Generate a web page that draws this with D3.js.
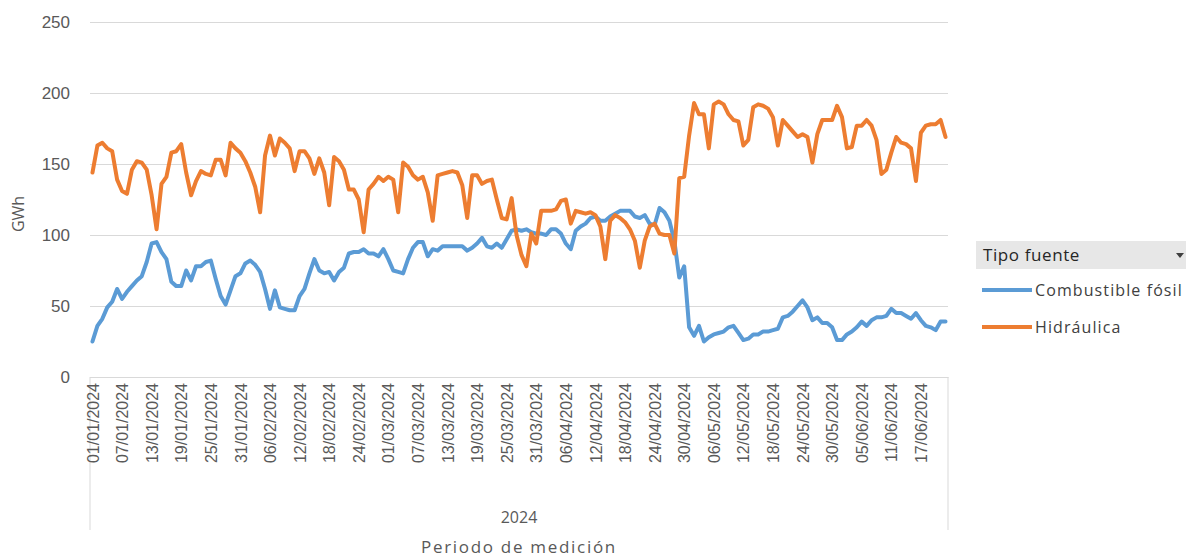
<!DOCTYPE html>
<html><head><meta charset="utf-8">
<script src="https://cdn.jsdelivr.net/npm/d3@7"></script>
<style>
html,body{margin:0;padding:0;background:#fff;}
svg{display:block;font-family:"Open Sans",sans-serif;}
</style></head>
<body><svg id="chart" width="1186" height="557"></svg>
<script>
// categories: daily dates 01/01/2024 .. 22/06/2024
const fmt = d3.timeFormat("%d/%m/%Y");
const categories = d3.timeDay.range(new Date(2024,0,1), new Date(2024,5,23)).map(fmt);

const tickLabels = ["01/01/2024","07/01/2024","13/01/2024","19/01/2024","25/01/2024","31/01/2024",
  "06/02/2024","12/02/2024","18/02/2024","24/02/2024","01/03/2024","07/03/2024","13/03/2024",
  "19/03/2024","25/03/2024","31/03/2024","06/04/2024","12/04/2024","18/04/2024","24/04/2024",
  "30/04/2024","06/05/2024","12/05/2024","18/05/2024","24/05/2024","30/05/2024","05/06/2024",
  "11/06/2024","17/06/2024"];

const yTicks = [0,50,100,150,200,250];

const combustibleFosil = [
  25,36,41,49,53,62,55,60,64,68,
  71,81,94,95,88,83,67,64,64,75,
  68,78,78,81,82,69,57,51,61,71,
  73,80,82,79,74,62,48,61,49,48,
  47,47,57,62,73,83,75,73,74,68,
  74,77,87,88,88,90,87,87,85,90,
  83,75,74,73,83,91,95,95,85,90,
  89,92,92,92,92,92,89,91,94,98,
  92,91,94,91,97,103,104,103,104,102,
  101,101,100,104,104,101,94,90,103,106,
  108,112,113,110,110,113,115,117,117,117,
  113,112,114,108,107,119,116,110,96,70,
  78,35,29,36,25,28,30,31,32,35,
  36,31,26,27,30,30,32,32,33,34,
  42,43,46,50,54,49,40,42,38,38,
  35,26,26,30,32,35,39,36,40,42,
  42,43,48,45,45,43,41,45,40,36,
  35,33,39,39];

const hidraulica = [
  144,163,165,161,159,139,131,129,146,152,
  151,146,128,104,136,141,158,159,164,144,
  128,138,145,143,142,153,153,142,165,161,
  158,152,144,134,116,156,170,156,168,165,
  161,145,159,159,154,143,154,144,121,155,
  152,146,132,132,125,102,132,136,141,138,
  141,139,116,151,148,142,139,141,130,110,
  142,143,144,145,144,135,112,142,142,136,
  138,139,125,112,111,126,100,86,78,101,
  94,117,117,117,118,124,125,108,117,116,
  115,116,114,106,83,110,114,112,109,104,
  96,77,96,106,108,101,100,100,87,140,
  141,170,193,185,185,161,192,194,192,185,
  181,180,163,167,190,192,191,189,183,163,
  181,177,173,169,171,169,151,171,181,181,
  181,191,183,161,162,177,177,181,177,167,
  143,146,158,169,165,164,161,138,172,177,
  178,178,181,169];

const seriesNames = ["Combustible fósil","Hidráulica"];
const seriesColors = ["#5B9BD5","#ED7D31"];
const seriesData = [combustibleFosil, hidraulica];

const svg = d3.select("#chart");
const L = 90, R = 948, T = 22, B = 377;

const x = d3.scalePoint().domain(categories).range([L, R]).padding(0.5);
const y = d3.scaleLinear().domain([0,250]).range([B, T]);

// gridlines + y labels
const yAxis = d3.axisLeft(y).tickValues(yTicks).tickSize(-(R-L)).tickPadding(20);
const gy = svg.append("g").attr("transform",`translate(${L},0)`).call(yAxis);
gy.select(".domain").remove();
gy.selectAll(".tick line").attr("stroke","#d9d9d9").attr("stroke-width",1);
gy.selectAll(".tick text").attr("fill","#595959").style("font-size","17px").attr("dx","0");

// category axis vertical separators
svg.append("line").attr("x1",L).attr("x2",L).attr("y1",B).attr("y2",530).attr("stroke","#d9d9d9");
svg.append("line").attr("x1",R).attr("x2",R).attr("y1",B).attr("y2",530).attr("stroke","#d9d9d9");

// x axis labels
const xAxis = d3.axisBottom(x).tickValues(tickLabels).tickSize(0).tickPadding(0);
const gx = svg.append("g").attr("transform",`translate(0,${B})`).call(xAxis);
gx.select(".domain").attr("stroke","#d9d9d9");
gx.selectAll(".tick text")
  .attr("fill","#595959").style("font-size","16px")
  .attr("text-anchor","end")
  .attr("transform","rotate(-90)")
  .attr("x",-6).attr("y",0).attr("dy","0.35em");

// year and axis title
svg.append("text").attr("x",(L+R)/2).attr("y",523).attr("text-anchor","middle")
  .attr("fill","#595959").style("font-size","16px").text("2024");
svg.append("text").attr("x",(L+R)/2).attr("y",553).attr("text-anchor","middle")
  .attr("fill","#595959").style("font-size","17px").style("letter-spacing","1.7px").text("Periodo de medición");
svg.append("text").attr("transform","translate(24,214) rotate(-90)").attr("text-anchor","middle")
  .attr("fill","#595959").style("font-size","16px").text("GWh");

// lines
const line = d3.line().x((d,i)=>x(categories[i])).y(d=>y(d));
seriesData.forEach((s,k)=>{
  svg.append("path").datum(s).attr("d",line).attr("fill","none")
    .attr("stroke",seriesColors[k]).attr("stroke-width",4)
    .attr("stroke-linejoin","round").attr("stroke-linecap","round");
});

// legend
svg.append("rect").attr("x",976).attr("y",241).attr("width",210).attr("height",28).attr("fill","#e7e7e7");
svg.append("text").attr("x",983).attr("y",261).attr("fill","#262626").style("font-size","17px").style("letter-spacing","0.6px").text("Tipo fuente");
svg.append("path").attr("d","M1176,253 L1184,253 L1180,258 Z").attr("fill","#404040");
seriesNames.forEach((n,k)=>{
  const ly = 290 + k*37;
  svg.append("line").attr("x1",982).attr("x2",1032).attr("y1",ly).attr("y2",ly)
    .attr("stroke",seriesColors[k]).attr("stroke-width",4);
  svg.append("text").attr("x",1035).attr("y",ly).attr("dy","0.35em")
    .attr("fill","#404040").style("font-size","16px").style("letter-spacing","1.1px").text(n);
});
</script></body></html>
